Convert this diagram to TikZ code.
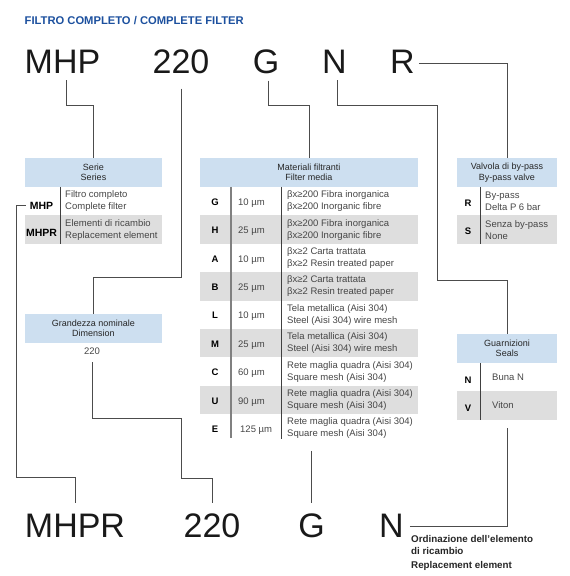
\documentclass[tikz,border=0pt]{standalone}
\usepackage{fontspec}
\setmainfont{Liberation Sans}
\usetikzlibrary{positioning}
\definecolor{blutitolo}{RGB}{28,80,158}
\definecolor{bluhead}{RGB}{205,223,240}
\definecolor{grigiofila}{RGB}{222,222,222}
\definecolor{testo}{RGB}{70,70,70}

\begin{document}
\begin{tikzpicture}[x=1pt, y=-1pt,
    codice/.style = {inner sep=0, anchor=base, font=\fontsize{34}{40}\selectfont, text=black!90},
    testata/.style = {fill=bluhead, minimum height=29pt, inner sep=0, align=center, font=\fontsize{9}{10.5}\selectfont, text=black!85},
    riga/.style = {minimum height=28.4pt, inner sep=0},
    grigia/.style = {fill=grigiofila},
    lettera/.style = {inner sep=0, anchor=base, font=\fontsize{9.5}{11}\selectfont\bfseries},
    sigla/.style = {inner sep=0, anchor=base, font=\fontsize{10.5}{12}\selectfont\bfseries},
    voce/.style = {inner sep=0, anchor=west, align=left, font=\fontsize{9.5}{12}\selectfont, text=testo},
    micron/.style = {inner sep=0, anchor=base west, font=\fontsize{9.5}{12}\selectfont, text=testo},
    conn/.style = {draw=black!70, line width=1pt, shorten <=7pt},
    sep/.style = {draw=black!75, line width=1pt},
    sepg/.style = {draw=black!50, line width=1.7pt}]
    \useasboundingbox (0,0) rectangle (570,576);

    % Titolo
    \node[anchor=base west, inner sep=0, font=\fontsize{11.2}{14}\selectfont\bfseries, text=blutitolo] (titolo) at (24.5,24.5) {FILTRO COMPLETO / COMPLETE FILTER};

    % Codice del filtro completo
    \node[codice] (mhp) at (62.5,73) {MHP};
    \node[codice] (c220) at (181,73) {220};
    \node[codice] (cg) at (266,73) {G};
    \node[codice] (cn) at (334.5,73) {N};
    \node[codice] (cr) at (402.5,73) {R};

    % Codice dell'elemento di ricambio
    \node[codice] (bmhpr) at (75,537) {MHPR};
    \node[codice] (b220) at (212,537) {220};
    \node[codice] (bg) at (311.5,537) {G};
    \node[codice] (bn) at (391.5,537) {N};

    % Serie
    \node[testata, minimum width=137pt] (serie) at (93.5,172.5) {Serie\\Series};
    \node[riga, minimum width=137pt] (s1) at (93.5,201.2) {};
    \node[riga, grigia, minimum width=137pt] (s2) at (93.5,229.6) {};
    \node[sigla] (lmhp) at (41.5,209.5) {MHP};
    \node[sigla] (lmhpr) at (41.5,236) {MHPR};
    \node[voce] (vmhp) at (65,201.2) {Filtro completo\\Complete filter};
    \node[voce] (vmhpr) at (65,229.6) {Elementi di ricambio\\Replacement element};
    \draw[sep] ([xshift=36pt]s1.north west) -- ([xshift=36pt]s2.south west);

    % Grandezza nominale
    \node[testata, minimum width=137pt] (grand) at (93.5,328.5) {Grandezza nominale\\Dimension};
    \node[micron, anchor=base] (d220) at (92,354) {220};

    % Materiali filtranti
    \node[testata, minimum width=218pt] (mat) at (309,172.5) {Materiali filtranti\\Filter media};
    \node[riga, minimum width=218pt] (rG) at (309,201.2) {};
    \node[lettera] (lG) at (215,205.2) {G};
    \node[micron] (mG) at (238,205.2) {10 µm};
    \node[voce] (dG) at (287,201.2) {βx≥200 Fibra inorganica\\βx≥200 Inorganic fibre};
    \node[riga, grigia, minimum width=218pt] (rH) at (309,229.6) {};
    \node[lettera] (lH) at (215,233.6) {H};
    \node[micron] (mH) at (238,233.6) {25 µm};
    \node[voce] (dH) at (287,229.6) {βx≥200 Fibra inorganica\\βx≥200 Inorganic fibre};
    \node[riga, minimum width=218pt] (rA) at (309,258) {};
    \node[lettera] (lA) at (215,262) {A};
    \node[micron] (mA) at (238,262) {10 µm};
    \node[voce] (dA) at (287,258) {βx≥2 Carta trattata\\βx≥2 Resin treated paper};
    \node[riga, grigia, minimum width=218pt] (rB) at (309,286.4) {};
    \node[lettera] (lB) at (215,290.4) {B};
    \node[micron] (mB) at (238,290.4) {25 µm};
    \node[voce] (dB) at (287,286.4) {βx≥2 Carta trattata\\βx≥2 Resin treated paper};
    \node[riga, minimum width=218pt] (rL) at (309,314.8) {};
    \node[lettera] (lL) at (215,318.8) {L};
    \node[micron] (mL) at (238,318.8) {10 µm};
    \node[voce] (dL) at (287,314.8) {Tela metallica (Aisi 304)\\Steel (Aisi 304) wire mesh};
    \node[riga, grigia, minimum width=218pt] (rM) at (309,343.2) {};
    \node[lettera] (lM) at (215,347.2) {M};
    \node[micron] (mM) at (238,347.2) {25 µm};
    \node[voce] (dM) at (287,343.2) {Tela metallica (Aisi 304)\\Steel (Aisi 304) wire mesh};
    \node[riga, minimum width=218pt] (rC) at (309,371.6) {};
    \node[lettera] (lC) at (215,375.6) {C};
    \node[micron] (mC) at (238,375.6) {60 µm};
    \node[voce] (dC) at (287,371.6) {Rete maglia quadra (Aisi 304)\\Square mesh (Aisi 304)};
    \node[riga, grigia, minimum width=218pt] (rU) at (309,400) {};
    \node[lettera] (lU) at (215,404) {U};
    \node[micron] (mU) at (238,404) {90 µm};
    \node[voce] (dU) at (287,400) {Rete maglia quadra (Aisi 304)\\Square mesh (Aisi 304)};
    \node[riga, minimum width=218pt] (rE) at (309,428.4) {};
    \node[lettera] (lE) at (215,432.4) {E};
    \node[micron] (mE) at (240,432.4) {125 µm};
    \node[voce] (dE) at (287,428.4) {Rete maglia quadra (Aisi 304)\\Square mesh (Aisi 304)};
    \draw[sepg] ([xshift=31pt]rG.north west) -- ([xshift=31pt, yshift=5pt]rE.south west);
    \draw[sep] ([xshift=82pt]rG.north west) -- ([xshift=82pt, yshift=4pt]rE.south west);

    % Valvola di by-pass
    \node[testata, minimum width=100pt] (valv) at (507,172.5) {Valvola di by-pass\\By-pass valve};
    \node[riga, minimum width=100pt] (v1) at (507,201.2) {};
    \node[riga, grigia, minimum width=100pt] (v2) at (507,229.6) {};
    \node[lettera] (lr) at (468,206) {R};
    \node[lettera] (ls) at (468,234) {S};
    \node[voce] (vr) at (485,201.2) {By-pass\\Delta P 6 bar};
    \node[voce] (vs) at (485,229.6) {Senza by-pass\\None};
    \draw[sep] ([xshift=24pt]v1.north west) -- ([xshift=24pt]v2.south west);

    % Guarnizioni
    \node[testata, minimum width=100pt] (guar) at (507,348.5) {Guarnizioni\\Seals};
    \node[riga, minimum width=100pt] (g1) at (507,377.2) {};
    \node[riga, grigia, minimum width=100pt] (g2) at (507,405.6) {};
    \node[lettera] (ln) at (468,383.3) {N};
    \node[lettera] (lv) at (468,411.7) {V};
    \node[micron] (vn) at (492,380) {Buna N};
    \node[micron] (vv) at (492,408) {Viton};
    \draw[sep] ([xshift=24pt]g1.north west) -- ([xshift=24pt]g2.south west);

    % Nota sull'ordinazione
    \node[anchor=north west, inner sep=0, align=left, font=\fontsize{9.8}{11.3}\selectfont\bfseries, text=black!85] (nota) at (411,535.5) {Ordinazione dell’elemento\\di ricambio};
    \node[anchor=base west, inner sep=0, font=\fontsize{9.8}{11.3}\selectfont\bfseries, text=black!85] (notaen) at (411,568) {Replacement element};

    % Collegamenti
    \draw[conn] ([xshift=3.5pt]mhp.south) -- ++(0,32) -| (serie.north);
    \draw[conn, shorten <=15pt] (c220.south) -- ++(0,204) -| (grand.north);
    \draw[conn] ([xshift=2pt]cg.south) -- ++(0,32) -| (mat.north);
    \draw[conn] ([xshift=2.5pt]cn.south) -- ++(0,32) -| ++(100,175) -| (guar.north);
    \draw[conn, shorten <=4pt] ([yshift=-2pt]cr.east) -| (valv.north);
    \draw[conn, shorten <=4pt, shorten >=10pt] (lmhp.west) -| ++(-13,272) -| (bmhpr.north);
    \draw[conn, shorten <=8pt, shorten >=10pt] (d220.south) -- ++(0,64) -| ++(89,60) -| (b220.north);
    \draw[conn, shorten <=8pt, shorten >=10pt] (bg.north |- rE.south) -- (bg.north);
    \draw[conn, shorten <=6pt, shorten >=8pt] ([yshift=-1pt]bn.east) -| (g2.south);
\end{tikzpicture}
\end{document}
